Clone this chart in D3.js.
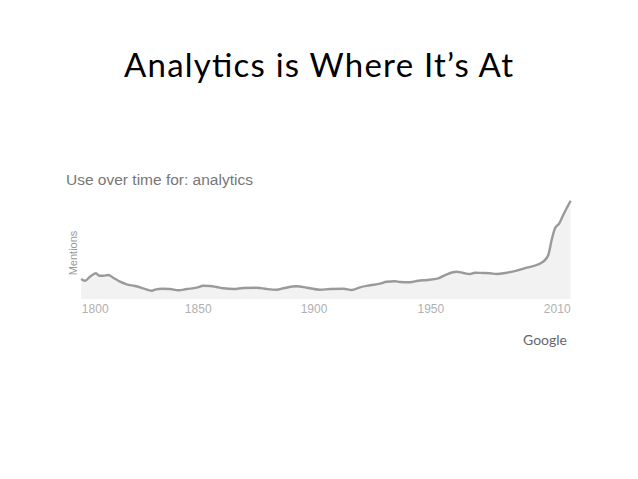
<!DOCTYPE html>
<html>
<head>
<meta charset="utf-8">
<script src="https://cdn.jsdelivr.net/npm/d3@7"></script>
<style>
  html, body { margin: 0; padding: 0; background: #fff; }
  svg { display: block; }
</style>
</head>
<body>
<svg id="chart" width="638" height="479"></svg>
<script>
// ---- data ----
const years = [1793.4,1795.3,1797.7,1800.6,1802.2,1804.2,1806.6,1809.0,1812.3,1815.5,1819.6,1823.6,1827.7,1829.8,1832.5,1836.6,1840.6,1844.7,1849.5,1852.4,1855.3,1858.2,1861.1,1865.4,1869.7,1875.5,1879.8,1884.1,1887.0,1892.8,1897.1,1902.8,1907.1,1912.8,1916.4,1919.9,1924.2,1928.5,1931.3,1934.9,1937.0,1941.3,1944.9,1948.5,1953.8,1957.8,1962.5,1965.7,1968.8,1971.2,1975.1,1978.3,1981.5,1986.3,1991.0,1995.8,2000.5,2003.6,2006.0,2007.6,2009.2,2011.2,2013.1,2014.7,2016.6];
const mentions = [20,18.3,22.3,25.7,23.3,23.3,24,21.3,17.3,14.7,13,10.7,8.3,9.7,10.3,10,8.7,10,11.3,13.3,13,12,10.7,10,11,11.3,10,9.3,10.7,12.7,11.3,9.3,10,10.3,9,11.7,13.7,15.3,17.3,17.7,17,16.7,18.3,19,20.7,24.7,27.3,26,25,26.3,26,25.7,25,26.3,28.3,31.3,34,37.3,44,59,70.7,75.7,84,90.7,98.3];
const tickYears = [1800, 1850, 1900, 1950, 2010];
const tickLabels = ["1800", "1850", "1900", "1950", "2010"];
const titleText = "Analytics is Where It\u2019s At";
const subtitleText = "Use over time for: analytics";
const yAxisLabel = "Mentions";
const sourceText = "Google";

const svg = d3.select("#chart");

// x scale: piecewise linear to follow the label positions in the picture
const x = d3.scaleLinear()
  .domain(tickYears)
  .range([94.7, 197.7, 313.5, 430.3, 556.7]);
const y = d3.scaleLinear().domain([0, 100]).range([299, 199]);

const pts = years.map((yr, i) => ({ yr, v: mentions[i] }));

// title
svg.append("text")
  .attr("x", 124).attr("y", 77)
  .attr("font-family", "Lato, 'Open Sans', sans-serif")
  .attr("font-size", 33)
  .attr("textLength", 389)
  .attr("lengthAdjust", "spacing")
  .attr("fill", "#000")
  .text(titleText);

// subtitle
svg.append("text")
  .attr("x", 66).attr("y", 184.5)
  .attr("font-family", "'Liberation Sans', Arial, sans-serif")
  .attr("font-size", 15.5)
  .attr("fill", "#777")
  .text(subtitleText);

// y label
svg.append("text")
  .attr("transform", `translate(77,253) rotate(-90)`)
  .attr("text-anchor", "middle")
  .attr("font-family", "'Liberation Sans', Arial, sans-serif")
  .attr("font-size", 11)
  .attr("fill", "#999")
  .text(yAxisLabel);

// area fill
const area = d3.area()
  .x(d => x(d.yr))
  .y0(y(0))
  .y1(d => y(d.v))
  .curve(d3.curveMonotoneX);
svg.append("path")
  .datum(pts)
  .attr("d", area)
  .attr("fill", "#f2f2f2");

// line
const line = d3.line()
  .x(d => x(d.yr))
  .y(d => y(d.v))
  .curve(d3.curveMonotoneX);
svg.append("path")
  .datum(pts)
  .attr("d", line)
  .attr("fill", "none")
  .attr("stroke", "#9a9a9a")
  .attr("stroke-width", 2.4)
  .attr("stroke-linejoin", "round");

// x axis labels
const axis = d3.axisBottom(x)
  .tickValues(tickYears)
  .tickFormat((d, i) => tickLabels[i])
  .tickSize(0)
  .tickPadding(5);
const g = svg.append("g")
  .attr("transform", `translate(0,${y(0)})`)
  .call(axis);
g.select(".domain").remove();
g.selectAll("text")
  .attr("font-family", "'Liberation Sans', Arial, sans-serif")
  .attr("font-size", 12)
  .attr("fill", "#b0b0b0");

// source
svg.append("text")
  .attr("x", 567).attr("y", 345)
  .attr("text-anchor", "end")
  .attr("font-family", "Lato, 'Open Sans', sans-serif")
  .attr("font-size", 14)
  .attr("fill", "#666")
  .text(sourceText);
</script>
</body>
</html>
